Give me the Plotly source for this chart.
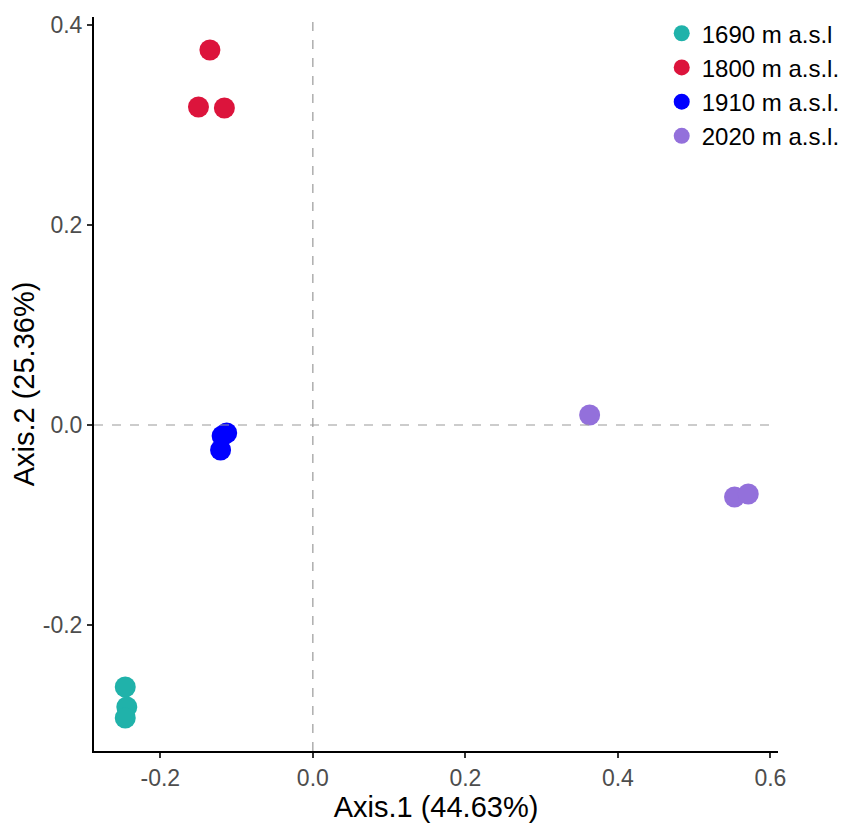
import plotly.graph_objects as go

# PCoA scores
groups = ['1690 m a.s.l', '1800 m a.s.l.', '1910 m a.s.l.', '2020 m a.s.l.']
colors = ['#20B2AA', '#DC143C', '#0000FF', '#9370DB']

axis1_1690 = [-0.246, -0.244, -0.246]
axis2_1690 = [-0.262, -0.282, -0.293]

axis1_1800 = [-0.135, -0.150, -0.116]
axis2_1800 = [0.375, 0.318, 0.317]

axis1_1910 = [-0.113, -0.119, -0.121]
axis2_1910 = [-0.008, -0.011, -0.025]

axis1_2020 = [0.363, 0.553, 0.571]
axis2_2020 = [0.010, -0.072, -0.069]

xs = [axis1_1690, axis1_1800, axis1_1910, axis1_2020]
ys = [axis2_1690, axis2_1800, axis2_1910, axis2_2020]

fig = go.Figure()

# dashed reference lines through the origin
fig.add_hline(y=0, line=dict(color='#999999', width=1.2, dash='dash'))
fig.add_vline(x=0, line=dict(color='#999999', width=1.2, dash='dash'))

for name, col, x, y in zip(groups, colors, xs, ys):
    fig.add_trace(go.Scatter(
        x=x, y=y, mode='markers', name=name,
        marker=dict(color=col, size=21, line=dict(width=0))))

# page body has an 8px margin, so the figure is a bit smaller than the window
fig.update_layout(
    width=843, height=817,
    margin=dict(l=86, r=73, t=3, b=74),
    plot_bgcolor='white', paper_bgcolor='white',
    font=dict(family='Liberation Sans, Arial', color='black'),
    showlegend=True,
    legend=dict(x=0.83, xanchor='left', y=1.008, yanchor='top',
                font=dict(size=24, color='black'),
                bgcolor='rgba(0,0,0,0)', tracegroupgap=0, itemsizing='trace'),
)
fig.update_xaxes(
    range=[-0.287, 0.61], tickvals=[-0.2, 0.0, 0.2, 0.4, 0.6],
    ticktext=['-0.2', '0.0', '0.2', '0.4', '0.6'],
    showgrid=False, zeroline=False, automargin=False,
    showline=True, linecolor='black', linewidth=2,
    ticks='outside', ticklen=5, tickwidth=1.5, tickcolor='#333333',
    tickfont=dict(size=23, color='#4D4D4D'), ticklabeloverflow='allow',
    title=dict(text='Axis.1 (44.63%)', font=dict(size=29, color='black'), standoff=0))
fig.update_yaxes(
    range=[-0.326, 0.408], tickvals=[-0.2, 0.0, 0.2, 0.4],
    ticktext=['-0.2', '0.0', '0.2', '0.4'],
    showgrid=False, zeroline=False, automargin=False,
    showline=True, linecolor='black', linewidth=2,
    ticks='outside', ticklen=5, tickwidth=1.5, tickcolor='#333333',
    tickfont=dict(size=23, color='#4D4D4D'), ticklabeloverflow='allow',
    title=dict(text='Axis.2 (25.36%)', font=dict(size=29, color='black'), standoff=4))

fig.write_html("out.html")
